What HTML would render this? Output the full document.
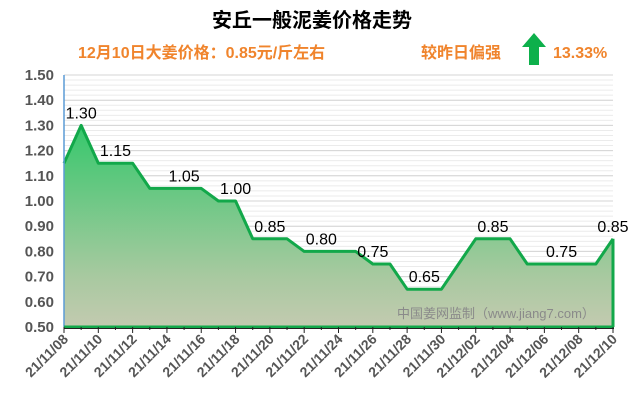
<!DOCTYPE html>
<html><head><meta charset="utf-8">
<style>
html,body{margin:0;padding:0;background:#fff;}
body{width:640px;height:410px;overflow:hidden;font-family:"Liberation Sans","Noto Sans CJK SC",sans-serif;}
</style></head>
<body>
<svg id="chart" width="640" height="410" xmlns="http://www.w3.org/2000/svg" font-family="Liberation Sans, Noto Sans CJK SC, sans-serif">
<defs>
<linearGradient id="fillg" x1="0" y1="0" x2="0" y2="1">
<stop offset="0" stop-color="#36c86c"/>
<stop offset="0.75" stop-color="#a8c9a0"/>
<stop offset="1" stop-color="#c3cab0"/>
</linearGradient>
</defs>
<text x="312" y="27" text-anchor="middle" font-size="20" font-weight="bold" fill="#000">安丘一般泥姜价格走势</text>
<text x="78" y="58" font-size="16" font-weight="bold" fill="#f0842c">12月10日大姜价格：0.85元/斤左右</text>
<text x="421" y="58" font-size="16" font-weight="bold" fill="#f0842c">较昨日偏强</text>
<polygon points="534,33 546,47 539,47 539,65 529,65 529,47 522,47" fill="#0db04b"/>
<text x="553" y="58" font-size="16" font-weight="bold" fill="#f0842c">13.33%</text>
<g id="grid"></g>
<g id="plot"></g>
<g id="axes"></g>
<text x="397" y="318" font-size="13" fill="#8a8a8a">中国姜网监制（www.jiang7.com）</text>
</svg>
<script>
const dates = ["21/11/08","21/11/09","21/11/10","21/11/11","21/11/12","21/11/13","21/11/14","21/11/15","21/11/16","21/11/17","21/11/18","21/11/19","21/11/20","21/11/21","21/11/22","21/11/23","21/11/24","21/11/25","21/11/26","21/11/27","21/11/28","21/11/29","21/11/30","21/12/01","21/12/02","21/12/03","21/12/04","21/12/05","21/12/06","21/12/07","21/12/08","21/12/09","21/12/10"];
const prices = [1.15,1.30,1.15,1.15,1.15,1.05,1.05,1.05,1.05,1.00,1.00,0.85,0.85,0.85,0.80,0.80,0.80,0.80,0.75,0.75,0.65,0.65,0.65,0.75,0.85,0.85,0.85,0.75,0.75,0.75,0.75,0.75,0.85];
const labelIdx = [1,3,7,10,12,15,18,21,25,29,32];
const yTicks = [0.5,0.6,0.7,0.8,0.9,1.0,1.1,1.2,1.3,1.4,1.5];
const NS="http://www.w3.org/2000/svg";
const X0=64,X1=613,Y0=327,Y1=75,YMIN=0.5,YMAX=1.5;
function x(i){return X0+(X1-X0)*i/(dates.length-1);}
function y(v){return Y0-(Y0-Y1)*(v-YMIN)/(YMAX-YMIN);}
function mk(tag,attrs,parent){const e=document.createElementNS(NS,tag);for(const k in attrs)e.setAttribute(k,attrs[k]);parent.appendChild(e);return e;}
const grid=document.getElementById('grid'),plot=document.getElementById('plot'),axes=document.getElementById('axes');
for(let v=YMIN;v<=YMAX+1e-9;v+=0.02){
  const l=mk('line',{x1:X0,x2:X1,y1:y(v),y2:y(v),stroke:'#ebebeb','stroke-width':1},grid);
  
  
}
yTicks.forEach(v=>{
  const l=mk('line',{x1:X0,x2:X1,y1:y(v),y2:y(v),stroke:'#d4d4d4','stroke-width':1},grid);
  
  
  const t=mk('text',{x:54,y:y(v)+5,'text-anchor':'end','font-size':15,'font-weight':'bold',fill:'#555'},axes);
  t.textContent=v.toFixed(2);
  
  
});
let d='M'+x(0)+','+Y0;
prices.forEach((p,i)=>{d+=' L'+x(i)+','+y(p);});
d+=' L'+x(prices.length-1)+','+Y0+' Z';
const area=mk('path',{d:d,fill:'url(#fillg)'},plot);


const pts=prices.map((p,i)=>x(i)+','+y(p)).join(' ');
const line=mk('polyline',{points:pts,fill:'none',stroke:'#12a84a','stroke-width':3,'stroke-linejoin':'round'},plot);


const rl=mk('line',{x1:X1,x2:X1,y1:y(prices[prices.length-1]),y2:Y0,stroke:'#12a84a','stroke-width':3},plot);


const ll=mk('line',{x1:X0,x2:X0,y1:Y1,y2:Y0,stroke:'#5b9bd5','stroke-width':1.5},axes);


const bl=mk('line',{x1:X0,x2:X1+1,y1:Y0,y2:Y0,stroke:'#12a84a','stroke-width':3},axes);


const bl2=mk('line',{x1:X0,x2:X1+1,y1:Y0+1.5,y2:Y0+1.5,stroke:'#222','stroke-width':1},axes);


labelIdx.forEach(i=>{
  const t=mk('text',{x:x(i),y:y(prices[i])-7,'text-anchor':'middle','font-size':16,fill:'#000'},plot);
  t.textContent=prices[i].toFixed(2);
  
  
});
dates.forEach((dt,i)=>{
  const major=i%2===0;
  const tk=mk('line',{x1:x(i),x2:x(i),y1:Y0,y2:Y0+(major?6:3),stroke:'#222','stroke-width':1},axes);
  
  
  if(major){
    const t=mk('text',{x:0,y:0,'text-anchor':'end','font-size':14,'font-weight':'bold',fill:'#555',transform:'translate('+(x(i)+5)+','+(Y0+13)+') rotate(-45)'},axes);
    t.textContent=dt;
    
    
  }
});
</script>
</body></html>
